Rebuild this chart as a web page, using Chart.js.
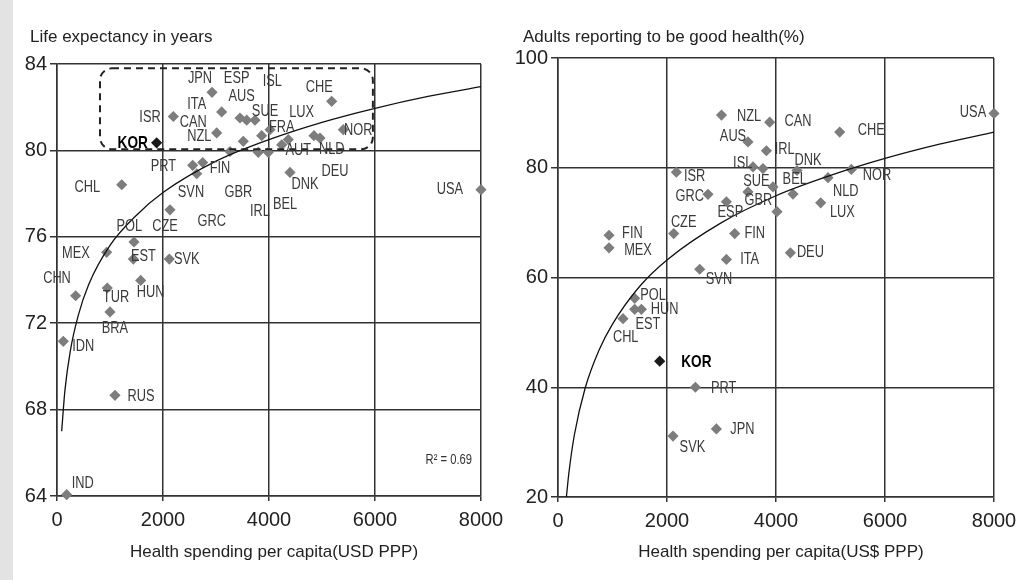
<!DOCTYPE html>
<html><head><meta charset="utf-8">
<script src="https://cdn.jsdelivr.net/npm/chart.js@4.4.0/dist/chart.umd.min.js"></script>
<style>
html,body{margin:0;padding:0;background:#fff;}
#wrap{position:relative;width:1026px;height:580px;background:#fff;overflow:hidden;}
#band{position:absolute;left:0;top:0;width:13px;height:580px;background:#e3e3e3;}
#c1{position:absolute;left:0;top:0;}
#c2{position:absolute;left:513px;top:0;}
</style></head><body>
<div id="wrap"><div id="band"></div>
<canvas id="c1" width="513" height="580"></canvas>
<canvas id="c2" width="513" height="580"></canvas>
</div>
<script>
// ---------- DATA: left chart (life expectancy) ----------
const lifeCountries = ['ISR','JPN','ITA','NZL','AUS','ESP','SUE','CAN','FRA','GBR','GRC','IRL','BEL','AUT','DEU','LUX','NLD','NOR','CHE','USA','DNK','PRT','FIN','SVN','CHL','CZE','POL','MEX','EST','SVK','HUN','TUR','CHN','BRA','IDN','RUS','IND'];
const lifeSpending = [2195,2925,3107,3013,3453,3579,3736,3862,4019,3515,3264,3798,3987,4240,4364,4849,4962,5402,5183,8000,4396,2560,2749,2636,1221,2132,1453,937,1440,2119,1579,949,352,1000,119,1094,182];
const lifeYears = [81.57,82.69,81.78,80.81,81.5,81.4,81.4,80.68,80.96,80.42,79.95,79.91,79.91,80.26,80.5,80.68,80.57,80.96,82.27,78.18,78.98,79.31,79.44,78.92,78.41,77.25,75.76,75.28,74.97,74.97,73.98,73.63,73.27,72.52,71.16,68.66,64.06];
const korLifeSpending = [1880];
const korLifeYears = [80.35];
const lifeTrendSpending = [88,150,250,400,600,1000,1500,2000,3000,4000,5000,6000,7000,8000];
const lifeTrendYears = [67.0,68.9,70.7,72.35,73.8,75.6,77.0,78.05,79.5,80.5,81.3,81.95,82.5,82.95];
const lifeTicksX = [0,2000,4000,6000,8000];
const lifeTicksY = [64,68,72,76,80,84];
// label texts and where they sit (data coordinates)
const lifeLabelText = ['JPN','ESP','ISL','CHE','ITA','AUS','SUE','LUX','ISR','CAN','NZL','FRA','NOR','KOR','AUT','NLD','PRT','FIN','DEU','CHL','SVN','GBR','DNK','USA','IRL','BEL','GRC','CZE','POL','MEX','EST','SVK','CHN','HUN','TUR','BRA','IDN','RUS','IND'];
const lifeLabelX = [2698,3390,4062,4949,2636,3484,3925,4617,1755,2572,2685,4240,5685,1428,4553,5183,2006,3075,5245,572,2528,3421,4679,7415,3830,4302,2919,2038,1365,358,1629,2447,0,1768,1113,1094,496,1585,485];
const lifeLabelY = [83.31,83.31,83.19,82.89,82.12,82.5,81.81,81.73,81.5,81.3,80.62,81.04,80.93,80.34,80.0,80.03,79.26,79.14,79.03,78.29,78.03,78.03,78.41,78.18,77.18,77.49,76.71,76.48,76.45,75.22,75.09,74.94,74.05,73.43,73.17,71.73,70.93,68.58,64.57];
const lifeBoxSpending = [811,5960];
const lifeBoxYears = [83.8,80.05];

// ---------- DATA: right chart (self-reported good health) ----------
const healthCountries = ['NZL','AUS','ISR','ISL','SUE','GRC','ESP','GBR','CAN','CHE','IRL','DNK','NOR','NLD','FRA','BEL','LUX','AUT','DEU','USA','FIN','MEX','CZE','FIN','ITA','SVN','POL','HUN','EST','CHL','PRT','JPN','SVK'];
const healthSpending = [3000,3486,2172,3578,3761,2752,3090,3486,3884,5169,3824,4385,5383,4954,3945,4312,4820,4018,4264,8000,936,936,2123,3242,3090,2600,1407,1407,1530,1193,2521,2906,2110];
const healthGood = [89.6,84.7,79.2,80.15,79.85,75.15,73.8,75.6,88.3,86.5,83.1,79.5,79.7,78.2,76.5,75.2,73.6,72.0,64.5,89.9,67.7,65.4,68.0,68.0,63.3,61.5,56.2,54.2,54.2,52.5,40.0,32.4,31.1];
const korHealthSpending = [1866];
const korHealthGood = [44.75];
const healthTrendSpending = [154,200,300,500,750,1000,1500,2000,3000,4000,5000,6000,7000,8000];
const healthTrendGood = [20,24.4,31.3,39.9,46.7,51.5,58.4,63.2,70.0,74.9,78.6,81.7,84.3,86.5];
const healthTicksX = [0,2000,4000,6000,8000];
const healthTicksY = [20,40,60,80,100];
const healthLabelText = ['USA','NZL','CAN','CHE','AUS','IRL','ISL','DNK','ISR','SUE','BEL','NOR','GRC','GBR','NLD','ESP','LUX','CZE','FIN','FIN','MEX','DEU','ITA','SVN','POL','HUN','EST','CHL','KOR','PRT','JPN','SVK'];
const healthLabelX = [7615,3505,4404,5750,3211,4160,3389,4587,2508,3640,4343,5853,2417,3677,5279,3163,5218,2306,1365,3609,1468,4631,3517,2954,1743,1958,1651,1242,2539,3040,3383,2466];
const healthLabelY = [90.05,89.25,88.34,86.7,85.6,83.3,80.77,81.24,78.32,77.4,77.85,78.63,74.8,74.05,75.72,71.77,71.77,69.95,68.0,68.0,64.97,64.55,63.33,59.63,56.78,54.17,51.5,49.0,44.63,39.78,32.37,29.03];

// ---------- STYLE ----------
const REG = '"Liberation Sans",Arial,sans-serif';
const GRID = '#333';
const DIAMOND = '#7d7d7d';
const SQUEEZE = 0.8;   // narrow-face look for the small labels

function pts(xs, ys){ return xs.map((v,i)=>({x:v, y:ys[i]})); }

function roundRectPath(ctx,x0,y0,x1,y1,r){
  ctx.beginPath();
  ctx.moveTo(x0+r,y0);
  ctx.lineTo(x1-r,y0); ctx.arcTo(x1,y0,x1,y0+r,r);
  ctx.lineTo(x1,y1-r); ctx.arcTo(x1,y1,x1-r,y1,r);
  ctx.lineTo(x0+r,y1); ctx.arcTo(x0,y1,x0,y1-r,r);
  ctx.lineTo(x0,y0+r); ctx.arcTo(x0,y0,x0+r,y0,r);
  ctx.closePath();
}

function narrowText(ctx, t, x, y){
  ctx.save();
  ctx.translate(x, y);
  ctx.scale(SQUEEZE, 1);
  ctx.fillText(t, 0, 0);
  ctx.restore();
}

function makeAnnot(cfg){
  return {
    id:'annot',
    afterDatasetsDraw(chart){
      const ctx = chart.ctx, xs = chart.scales.x, ys = chart.scales.y, ca = chart.chartArea;
      ctx.save();
      if (cfg.boxX){
        ctx.setLineDash([7,5]);
        ctx.lineWidth = 2;
        ctx.strokeStyle = '#222';
        roundRectPath(ctx, xs.getPixelForValue(cfg.boxX[0]), ys.getPixelForValue(cfg.boxY[0]),
                           xs.getPixelForValue(cfg.boxX[1]), ys.getPixelForValue(cfg.boxY[1]), 12);
        ctx.stroke();
        ctx.setLineDash([]);
      }
      ctx.textAlign = 'center';
      ctx.textBaseline = 'middle';
      cfg.text.forEach((t,i)=>{
        const kor = t === 'KOR';
        ctx.font = (kor ? 'bold 17px ' : '16px ') + REG;
        ctx.fillStyle = kor ? '#000' : '#3a3a3a';
        narrowText(ctx, t, xs.getPixelForValue(cfg.lx[i]), ys.getPixelForValue(cfg.ly[i]));
      });
      if (cfg.r2){
        ctx.font = '14px ' + REG;
        ctx.fillStyle = '#333';
        ctx.textAlign = 'right';
        narrowText(ctx, cfg.r2, ca.right - 9, 460);
      }
      ctx.fillStyle = '#222';
      ctx.font = '17px ' + REG;
      ctx.textAlign = 'left';
      ctx.fillText(cfg.yTitle, cfg.yTitleX, 37);
      ctx.textAlign = 'center';
      ctx.fillText(cfg.xTitle, (ca.left + ca.right)/2 + 5, 552);
      ctx.restore();
    }
  };
}

function makeChart(id, d){
  return new Chart(document.getElementById(id), {
    type:'scatter',
    data:{ datasets:[
      { label:'trend', data:pts(d.tx,d.ty), showLine:true, pointRadius:0, borderColor:'#111', borderWidth:1.3,
        cubicInterpolationMode:'monotone', fill:false, order:1, clip:false },
      { label:'OECD', data:pts(d.px,d.py), pointStyle:'rectRot', pointRadius:5.6, backgroundColor:DIAMOND,
        borderWidth:0, order:2, clip:false },
      { label:'KOR', data:pts(d.kx,d.ky), pointStyle:'rectRot', pointRadius:5.6, backgroundColor:'#1a1a1a',
        borderWidth:0, order:2, clip:false }
    ]},
    options:{
      responsive:false, animation:false,
      layout:{ padding:d.pad, autoPadding:false },
      plugins:{ legend:{display:false}, tooltip:{enabled:false}, title:{display:false} },
      scales:{
        x:{ type:'linear', min:d.xt[0], max:d.xt[d.xt.length-1],
            afterBuildTicks(s){ s.ticks = d.xt.map(v=>({value:v})); },
            afterFit(s){ s.height = d.xh; },
            ticks:{ font:{family:REG,size:20}, color:'#222', padding:7, maxRotation:0, callback:v=>String(v) },
            grid:{ color:GRID, lineWidth:1.5, tickLength:5 },
            border:{ color:GRID, width:1.5 } },
        y:{ type:'linear', min:d.yt[0], max:d.yt[d.yt.length-1],
            afterBuildTicks(s){ s.ticks = d.yt.map(v=>({value:v})); },
            afterFit(s){ s.width = d.yw; },
            ticks:{ font:{family:REG,size:20}, color:'#222', padding:3, callback:v=>String(v) },
            grid:{ color:GRID, lineWidth:1.5, tickLength:7 },
            border:{ color:GRID, width:1.5 } }
      }
    },
    plugins:[makeAnnot(d.annot)]
  });
}

makeChart('c1', {
  tx:lifeTrendSpending, ty:lifeTrendYears, px:lifeSpending, py:lifeYears, kx:korLifeSpending, ky:korLifeYears,
  xt:lifeTicksX, yt:lifeTicksY, pad:{left:0,right:32,top:64,bottom:0}, xh:84, yw:57,
  annot:{ text:lifeLabelText, lx:lifeLabelX, ly:lifeLabelY, boxX:lifeBoxSpending, boxY:lifeBoxYears,
          r2:'R\u00B2 = 0.69', yTitle:'Life expectancy in years', yTitleX:30,
          xTitle:'Health spending per capita(USD PPP)' }
});
makeChart('c2', {
  tx:healthTrendSpending, ty:healthTrendGood, px:healthSpending, py:healthGood, kx:korHealthSpending, ky:korHealthGood,
  xt:healthTicksX, yt:healthTicksY, pad:{left:0,right:32,top:58,bottom:0}, xh:83, yw:45,
  annot:{ text:healthLabelText, lx:healthLabelX, ly:healthLabelY,
          yTitle:'Adults reporting to be good health(%)', yTitleX:10,
          xTitle:'Health spending per capita(US$ PPP)' }
});
</script>
</body></html>
